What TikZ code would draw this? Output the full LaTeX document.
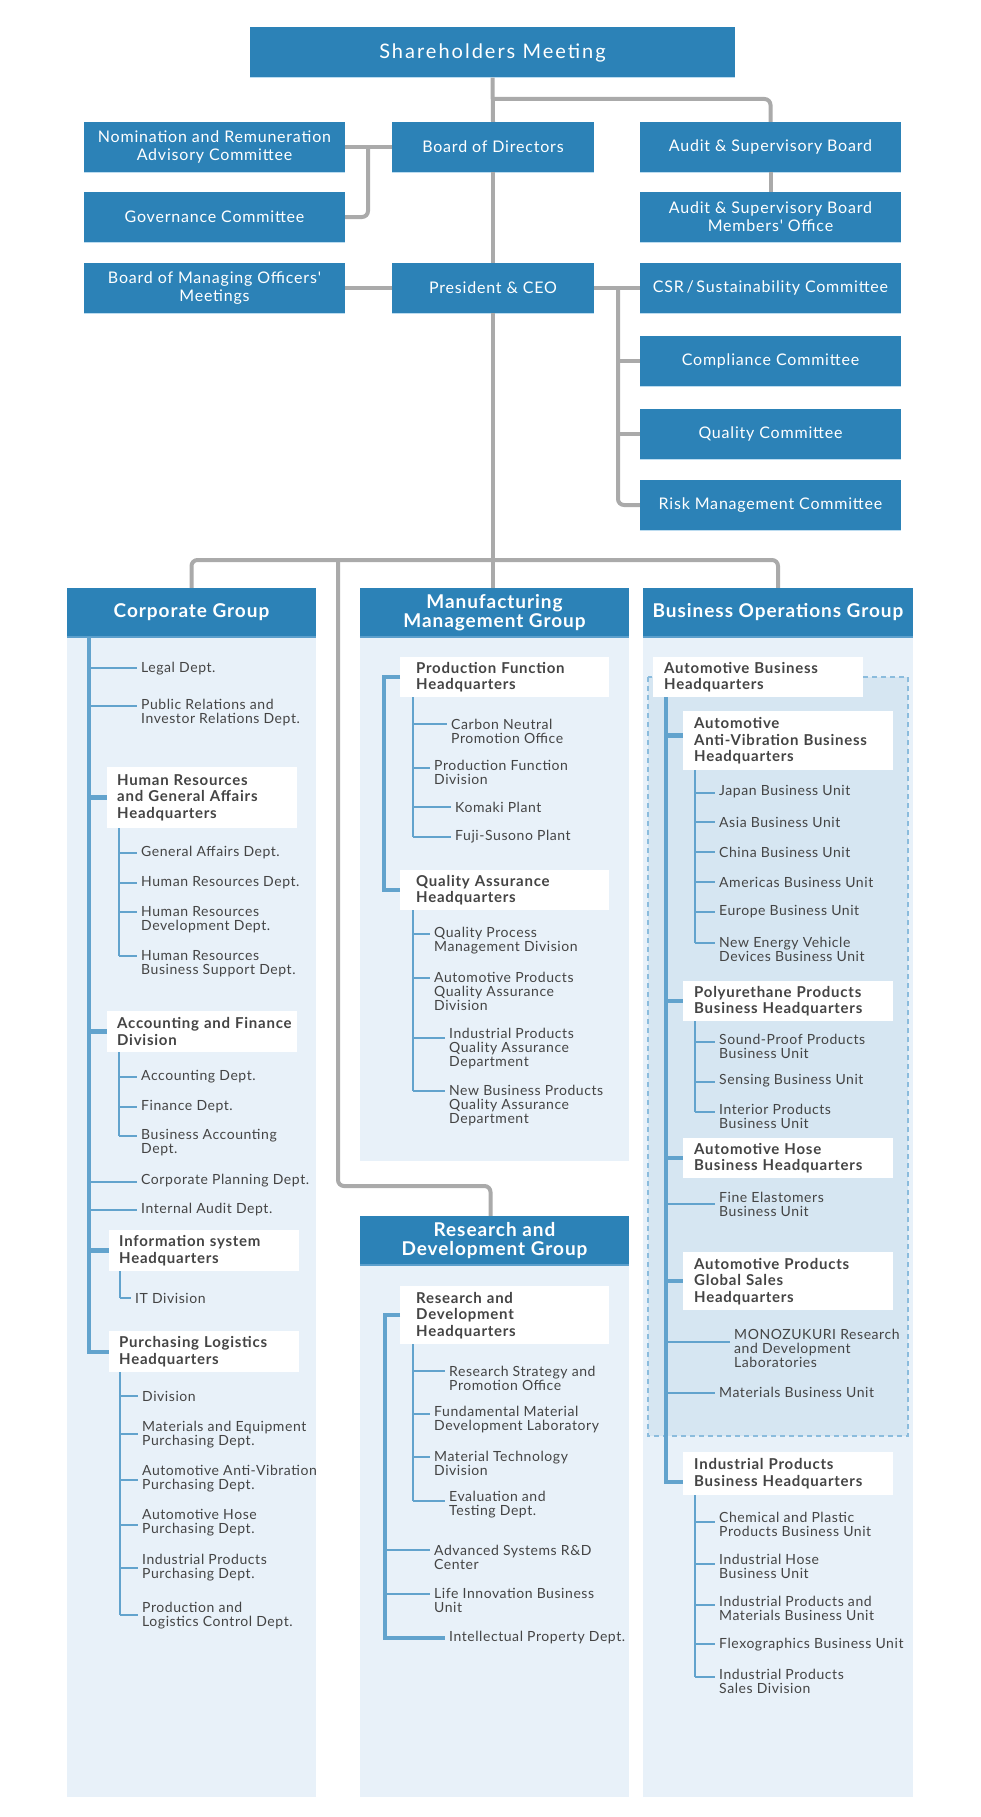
\documentclass[tikz,border=0pt]{standalone}
\usepackage{fontspec}
\setmainfont{Lato}
\newfontfamily\latosp[LetterSpace=5]{Lato}
\newfontfamily\latoleaf[LetterSpace=4]{Lato}
\newfontfamily\latowide[LetterSpace=10]{Lato}
\newcommand{\toptext}{\latosp\fontsize{16}{18}\selectfont}
\newcommand{\grptext}{\latosp\bfseries\fontsize{19}{19}\selectfont}
\newcommand{\hqtext}{\latosp\bfseries\fontsize{15}{16.5}\selectfont}
\newcommand{\leaftext}{\latoleaf\fontsize{14}{14}\selectfont}
\hyphenpenalty=10000
\exhyphenpenalty=10000
\definecolor{hdblue}{HTML}{2C82B7}
\definecolor{hdedge}{HTML}{BCDCF0}
\definecolor{grpedge}{HTML}{5C9FCC}
\definecolor{linkgray}{HTML}{AAAAAA}
\definecolor{spineblue}{HTML}{62A3CD}
\definecolor{panelbg}{HTML}{E8F1F9}
\definecolor{dashbg}{HTML}{D6E6F2}
\definecolor{dashline}{HTML}{8BBCDD}
\definecolor{txtgray}{HTML}{444444}
\begin{document}
\begin{tikzpicture}[x=1pt, y=-1pt,
    topbox/.style={fill=hdblue, text=white, inner sep=0pt, minimum height=50pt, align=center, font=\toptext,
      append after command={(\tikzlastnode.south west) edge[draw=hdedge, line width=1pt] (\tikzlastnode.south east)}},
    sidebox/.style={topbox, minimum width=261pt},
    grphead/.style={fill=hdblue, text=white, inner sep=0pt, minimum height=49pt, align=center, font=\grptext,
      append after command={(\tikzlastnode.south west) edge[draw=grpedge, line width=1.5pt] (\tikzlastnode.south east)}},
    hqbox/.style={fill=white, text=txtgray, anchor=north west, inner ysep=0pt, align=left, font=\hqtext},
    hqc/.style={hqbox, inner xsep=10pt, text width=170pt},
    hqm/.style={hqbox, inner xsep=16pt, text width=177pt},
    hqb/.style={hqbox, inner xsep=11pt, text width=188pt},
    leaf/.style={anchor=west, inner sep=0pt, align=left, text=txtgray, font=\leaftext},
    link/.style={draw=linkgray, line width=4pt, rounded corners=6pt},
    spine/.style={draw=spineblue, line width=4pt},
    hqtwig/.style={draw=spineblue, line width=4.5pt},
    twig/.style={draw=spineblue, line width=2pt},
    dashbox/.style={fill=dashbg, draw=dashline, line width=1.2pt, dash pattern=on 5pt off 4pt}]
\useasboundingbox (0,0) rectangle (980,1817);
\fill[white] (0,0) rectangle (980,1817);

% top of the organisation
\node[topbox, minimum width=485pt, font=\latowide\fontsize{20}{22}\selectfont] (share) at (492.5,52.5) {Shareholders Meeting};
\node[sidebox] (nom) at (214.5,147) {Nomination and Remuneration\\Advisory Committee};
\node[topbox, minimum width=202pt] (bod) at (493,147) {Board of Directors};
\node[sidebox] (aud) at (770.5,147) {Audit \& Supervisory Board};
\node[sidebox] (gov) at (214.5,217) {Governance Committee};
\node[sidebox] (aom) at (770.5,217) {Audit \& Supervisory Board\\Members' Office};
\node[sidebox] (bmo) at (214.5,288) {Board of Managing Officers'\\Meetings};
\node[topbox, minimum width=202pt] (ceo) at (493,288) {President \& CEO};
\node[sidebox] (csr) at (770.5,288) {CSR\,/\,Sustainability Committee};
\node[sidebox] (comp) at (770.5,361) {Compliance Committee};
\node[sidebox] (qual) at (770.5,434) {Quality Committee};
\node[sidebox] (risk) at (770.5,505) {Risk Management Committee};

\coordinate (ajoin) at (493,99);
\coordinate (njoin) at (368,147);
\coordinate (cjoin) at (618,288);
\draw[link] (share.south) -- (bod.north);
\draw[link] (ajoin) -| (aud.north);
\draw[link] (aud.south) -- (aom.north);
\draw[link] (bod.west) -- (nom.east);
\draw[link] (njoin) |- (gov.east);
\draw[link] (bod.south) -- (ceo.north);
\draw[link] (ceo.west) -- (bmo.east);
\draw[link] (ceo.east) -- (csr.west);
\draw[link] (cjoin |- comp.west) -- (comp.west);
\draw[link] (cjoin |- qual.west) -- (qual.west);
\draw[link] (cjoin) |- (risk.west);

% group panels
\fill[panelbg] (67,588) rectangle (316,1797);
\fill[panelbg] (360,588) rectangle (629,1161);
\fill[panelbg] (360,1216) rectangle (629,1797);
\fill[panelbg] (643,588) rectangle (913,1797);
\filldraw[dashbox] (648,677) rectangle (908,1436);
\node[grphead, minimum width=249pt] (cgh) at (191.5,612.5) {Corporate Group};
\node[grphead, minimum width=269pt] (mgh) at (494.5,612.5) {Manufacturing\\Management Group};
\node[grphead, minimum width=270pt] (bgh) at (778,612.5) {Business Operations Group};
\node[grphead, minimum width=269pt] (rgh) at (494.5,1240.5) {Research and\\Development Group};

\coordinate (gjoin) at (493,560);
\coordinate (rjoin) at (338,560);
\coordinate (rbend) at (338,1186);
\draw[link] (ceo.south) -- (ceo.south |- mgh.north);
\draw[link] (cgh.north) |- (gjoin) -| (bgh.north);
\draw[link] (rjoin) -- (rbend) -| ([xshift=-4pt]rgh.north);

% corporate group
\node[hqc, minimum height=61pt] (hrh) at (107,767) {Human~Resources\\and~General~Affairs\\Headquarters};
\node[hqc, minimum height=41pt] (ach) at (107,1011) {\mbox{Accounting and Finance}\\Division};
\node[hqc, minimum height=41pt] (inh) at (109,1230) {Information~system\\Headquarters};
\node[hqc, minimum height=41pt] (plh) at (109,1331) {Purchasing~Logistics\\Headquarters};
\coordinate (cs) at (89,637);
\draw[spine] (cs) |- (plh.west);
\draw[hqtwig] (cs |- hrh.west) -- (hrh.west);
\draw[hqtwig] (cs |- ach.west) -- (ach.west);
\draw[hqtwig] (cs |- inh.west) -- (inh.west);
\foreach \sx/\tx/\y/\by/\t [count=\n] in {
    89/141/669/668/{Legal Dept.},
    89/141/713/706/{Public Relations and\\Investor Relations Dept.},
    119/141/853/853/{General Affairs Dept.},
    119/141/883/883/{Human Resources Dept.},
    119/141/920/912/{Human Resources\\Development Dept.},
    119/141/964/956/{Human Resources\\Business Support Dept.},
    119/141/1077/1077/{Accounting Dept.},
    119/141/1107/1107/{Finance Dept.},
    119/141/1143/1136/{Business Accounting\\Dept.},
    89/141/1181/1182/{Corporate Planning Dept.},
    89/141/1210/1210/{Internal Audit Dept.},
    120/135/1298/1298/{IT Division},
    120/142/1396/1396/{Division},
    120/142/1435/1434/{Materials and Equipment\\Purchasing Dept.},
    120/142/1479/1480/{Automotive Anti-Vibration\\Purchasing Dept.},
    120/142/1523/1525/{Automotive Hose\\Purchasing Dept.},
    120/142/1568/1568/{Industrial Products\\Purchasing Dept.},
    120/142/1616/1615/{Production and\\Logistics Control Dept.}}{
  \coordinate (cb\n) at (\sx,\by);
  \node[leaf] (c\n) at (\tx,\y) {\t};
  \draw[twig] (cb\n) -- ([xshift=-4pt]cb\n -| c\n.west);
}
\draw[twig] ([xshift=12pt]hrh.south west) -- (cb6);
\draw[twig] ([xshift=12pt]ach.south west) -- (cb9);
\draw[twig] ([xshift=11pt]inh.south west) -- (cb12);
\draw[twig] ([xshift=11pt]plh.south west) -- (cb18);

% manufacturing management group
\node[hqm, minimum height=40pt] (pfh) at (400,657) {Production~Function\\Headquarters};
\node[hqm, minimum height=40pt] (qah) at (400,870) {Quality~Assurance\\Headquarters};
\draw[spine] (pfh.west) -- ++(-16,0) |- (qah.west);
\foreach \sx/\tx/\y/\by/\t [count=\n] in {
    413/451/731/724/{Carbon Neutral\\Promotion Office},
    413/434/772/768/{Production Function\\Division},
    413/455/807/807/{Komaki Plant},
    413/455/837/837/{Fuji-Susono Plant},
    413/434/941/934/{Quality Process\\Management Division},
    413/434/991/978/{Automotive Products\\Quality Assurance\\Division},
    413/449/1049/1038/{Industrial Products\\Quality Assurance\\Department},
    413/449/1106/1091/{New Business Products\\Quality Assurance\\Department}}{
  \coordinate (mb\n) at (\sx,\by);
  \node[leaf] (m\n) at (\tx,\y) {\t};
  \draw[twig] (mb\n) -- ([xshift=-4pt]mb\n -| m\n.west);
}
\draw[twig] ([xshift=13pt]pfh.south west) -- (mb4);
\draw[twig] ([xshift=13pt]qah.south west) -- (mb8);

% research and development group
\node[hqm, minimum height=58pt] (rdh) at (400,1286) {Research~and\\Development\\Headquarters};
\foreach \sx/\tx/\y/\by/\t [count=\n] in {
    413/449/1378/1371/{Research Strategy and\\Promotion Office},
    413/434/1420/1414/{Fundamental Material\\Development Laboratory},
    413/434/1463/1457/{Material Technology\\Division},
    413/449/1505/1501/{Evaluation and\\Testing Dept.},
    385/434/1557/1550/{Advanced Systems R\&D\\Center},
    385/434/1600/1594/{Life Innovation Business\\Unit},
    385/449/1638/1638/{Intellectual Property Dept.}}{
  \coordinate (rb\n) at (\sx,\by);
  \node[leaf] (r\n) at (\tx,\y) {\t};
  \draw[twig] (rb\n) -- ([xshift=-4pt]rb\n -| r\n.west);
}
\draw[spine] (rdh.west) -- ++(-15,0) |- ([xshift=-4pt]rb7 -| r7.west);
\draw[twig] ([xshift=13pt]rdh.south west) -- (rb4);

% business operations group
\node[hqb, minimum height=40pt] (abh) at (653,657) {Automotive~Business\\Headquarters};
\node[hqb, minimum height=59pt] (avh) at (683,711) {Automotive\\Anti-Vibration~Business\\Headquarters};
\node[hqb, minimum height=40pt] (puh) at (683,981) {Polyurethane~Products\\Business~Headquarters};
\node[hqb, minimum height=40pt] (ahh) at (683,1138) {Automotive~Hose\\Business~Headquarters};
\node[hqb, minimum height=58pt] (gsh) at (683,1252) {Automotive~Products\\Global~Sales\\Headquarters};
\node[hqb, minimum height=43pt] (iph) at (683,1452) {Industrial~Products\\Business~Headquarters};
\coordinate (bs) at (666,697);
\draw[spine] (bs) |- ([yshift=-8pt]iph.west);
\draw[hqtwig] ([yshift=5pt]avh.west -| bs) -- ([yshift=5pt]avh.west);
\draw[hqtwig] (bs |- puh.west) -- (puh.west);
\draw[hqtwig] (bs |- ahh.west) -- (ahh.west);
\draw[hqtwig] (bs |- gsh.west) -- (gsh.west);
\foreach \sx/\tx/\y/\by/\t [count=\n] in {
    695/719/792/793/{Japan Business Unit},
    695/719/822/822/{Asia Business Unit},
    695/719/852/852/{China Business Unit},
    695/719/882/882/{Americas Business Unit},
    695/719/912/912/{Europe Business Unit},
    695/719/949/943/{New Energy Vehicle\\Devices Business Unit},
    695/719/1046/1042/{Sound-Proof Products\\Business Unit},
    695/719/1081/1082/{Sensing Business Unit},
    695/719/1116/1112/{Interior Products\\Business Unit},
    666/719/1204/1204/{Fine Elastomers\\Business Unit},
    666/734/1348/1342/{MONOZUKURI Research\\and Development\\Laboratories},
    666/719/1392/1393/{Materials Business Unit},
    695/719/1524/1522/{Chemical and Plastic\\Products Business Unit},
    695/719/1566/1564/{Industrial Hose\\Business Unit},
    695/719/1608/1605/{Industrial Products and\\Materials Business Unit},
    695/719/1645/1644/{Flexographics Business Unit},
    695/719/1681/1677/{Industrial Products\\Sales Division}}{
  \coordinate (bb\n) at (\sx,\by);
  \node[leaf] (b\n) at (\tx,\y) {\t};
  \draw[twig] (bb\n) -- ([xshift=-4pt]bb\n -| b\n.west);
}
\draw[twig] ([xshift=12pt]avh.south west) -- (bb6);
\draw[twig] ([xshift=12pt]puh.south west) -- (bb9);
\draw[twig] ([xshift=12pt]iph.south west) -- (bb17);
\end{tikzpicture}
\end{document}
